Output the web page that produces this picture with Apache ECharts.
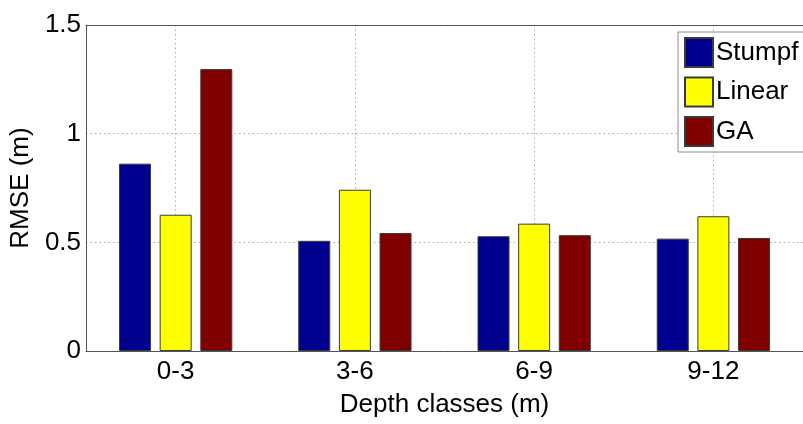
<!DOCTYPE html>
<html>
<head>
<meta charset="utf-8">
<script src="https://cdn.jsdelivr.net/npm/echarts@6/dist/echarts.min.js"></script>
<style>
  html, body { margin: 0; padding: 0; background: #fff; }
  #chart { width: 803px; height: 424px; }
</style>
</head>
<body>
<div id="chart"></div>
<script>
const categories = ["0-3", "3-6", "6-9", "9-12"];
const stumpf = [0.862, 0.507, 0.528, 0.517];
const linear = [0.627, 0.742, 0.586, 0.62];
const ga = [1.297, 0.543, 0.533, 0.52];

const font = "Liberation Sans, Arial, sans-serif";
const barBorder = { borderColor: "#3a3a3a", borderWidth: 1 };

const myChart = echarts.init(document.getElementById("chart"));
const option = {
  animation: false,
  backgroundColor: "#fff",
  textStyle: { fontFamily: font },
  grid: {
    left: 86,
    right: -8,
    top: 25,
    bottom: 73,
  },
  legend: {
    orient: "vertical",
    left: 678,
    top: 32,
    padding: [5, 40, 5, 6],
    itemWidth: 28,
    itemHeight: 29,
    itemGap: 8.5,
    icon: "rect",
    backgroundColor: "#fff",
    borderColor: "#8c8c8c",
    borderWidth: 1,
    textStyle: { color: "#000", fontSize: 26, lineHeight: 29, padding: [0, 0, 0, -2] },
    data: ["Stumpf", "Linear", "GA"],
  },
  xAxis: [
    {
      type: "category",
      data: categories,
      boundaryGap: true,
      name: "Depth classes (m)",
      nameLocation: "middle",
      nameGap: 41,
      nameTextStyle: { color: "#000", fontSize: 26 },
      axisLine: { lineStyle: { color: "#555", width: 1 } },
      axisTick: { show: false },
      axisLabel: { color: "#000", fontSize: 26, margin: 8 },
      splitLine: {
        show: true,
        alignWithLabel: true,
        lineStyle: { type: [1.5, 3], color: "#aaa" },
      },
    },
    {
      type: "category",
      data: categories,
      position: "top",
      axisLine: { lineStyle: { color: "#555", width: 1 } },
      axisTick: { show: false },
      axisLabel: { show: false },
      splitLine: { show: false },
    },
  ],
  yAxis: {
    type: "value",
    min: 0,
    max: 1.5,
    interval: 0.5,
    name: "RMSE (m)",
    nameLocation: "middle",
    nameGap: 44,
    nameTextStyle: { color: "#000", fontSize: 26 },
    axisLine: { show: true, lineStyle: { color: "#555", width: 1 } },
    axisTick: { show: false },
    axisLabel: { color: "#000", fontSize: 26, margin: 5 },
    splitLine: {
      show: true,
      lineStyle: { type: [1.5, 3], color: "#aaa" },
    },
  },
  series: [
    {
      name: "Stumpf",
      type: "bar",
      data: stumpf,
      barWidth: 32,
      barGap: "27%",
      itemStyle: { color: "#00008f", ...barBorder },
    },
    {
      name: "Linear",
      type: "bar",
      data: linear,
      barWidth: 32,
      barGap: "27%",
      itemStyle: { color: "#ffff00", ...barBorder },
    },
    {
      name: "GA",
      type: "bar",
      data: ga,
      barWidth: 32,
      barGap: "27%",
      itemStyle: { color: "#800000", ...barBorder },
    },
  ],
};
myChart.setOption(option);
</script>
</body>
</html>
